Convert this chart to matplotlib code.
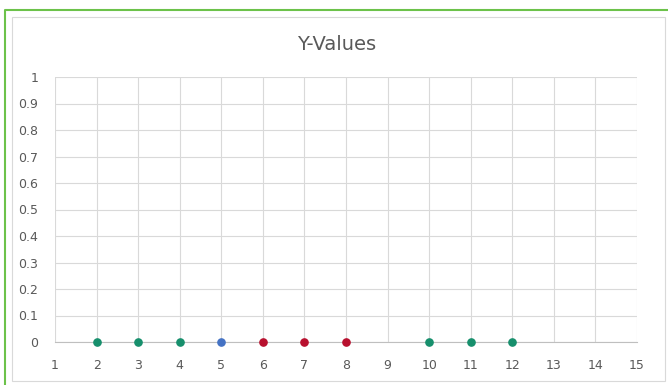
import matplotlib
matplotlib.use("Agg")
import matplotlib.pyplot as plt
from matplotlib.patches import Rectangle
from matplotlib.lines import Line2D

x_green1 = [2, 3, 4]
x_blue = [5]
x_red = [6, 7, 8]
x_green2 = [10, 11, 12]
y_green1 = [0, 0, 0]
y_blue = [0]
y_red = [0, 0, 0]
y_green2 = [0, 0, 0]
title = "Y-Values"
x_ticks = list(range(1, 16))
y_ticks = [0, 0.1, 0.2, 0.3, 0.4, 0.5, 0.6, 0.7, 0.8, 0.9, 1]

W, H = 668, 385
fig = plt.figure(figsize=(W/100, H/100), dpi=100)
fig.patch.set_facecolor("white")

# green outer border (only left/top visible, cropped at right/bottom)
fig.add_artist(Line2D([5/W, 5/W, 1.0], [0.0, 1 - 10/H, 1 - 10/H],
                      transform=fig.transFigure, color="#6cc24a", linewidth=1.5))
# inner gray border
fig.add_artist(Rectangle((12/W, 4/H), (665-12)/W, (381-17)/H, transform=fig.transFigure,
                         fill=False, edgecolor="#d9d9d9", linewidth=0.8))

ax = fig.add_axes([55/W, 1 - 342/H, (637-55)/W, (342-77)/H])
ax.set_xlim(1, 15)
ax.set_ylim(0, 1)
ax.set_xticks(x_ticks)
ax.set_yticks(y_ticks)
ax.set_yticklabels([("%g" % v) for v in y_ticks])
ax.grid(True, color="#d9d9d9", linewidth=0.8)
ax.set_axisbelow(True)
for s in ["top", "right", "left"]:
    ax.spines[s].set_visible(False)
ax.spines["bottom"].set_color("#bfbfbf")
ax.tick_params(length=0, colors="#595959", labelsize=9)
ax.tick_params(axis="x", pad=12)
ax.tick_params(axis="y", pad=12)

ms = 5.2
ax.plot(x_green1, y_green1, "o", color="#168f6c", ms=ms, clip_on=False, zorder=3)
ax.plot(x_blue, y_blue, "o", color="#4472c4", ms=ms, clip_on=False, zorder=3)
ax.plot(x_red, y_red, "o", color="#b8102e", ms=ms, clip_on=False, zorder=3)
ax.plot(x_green2, y_green2, "o", color="#168f6c", ms=ms, clip_on=False, zorder=3)

fig.text(337/W, 1 - 45/H, title, ha="center", va="center",
         fontsize=14, color="#595959")

fig.savefig("out.png", dpi=100)
